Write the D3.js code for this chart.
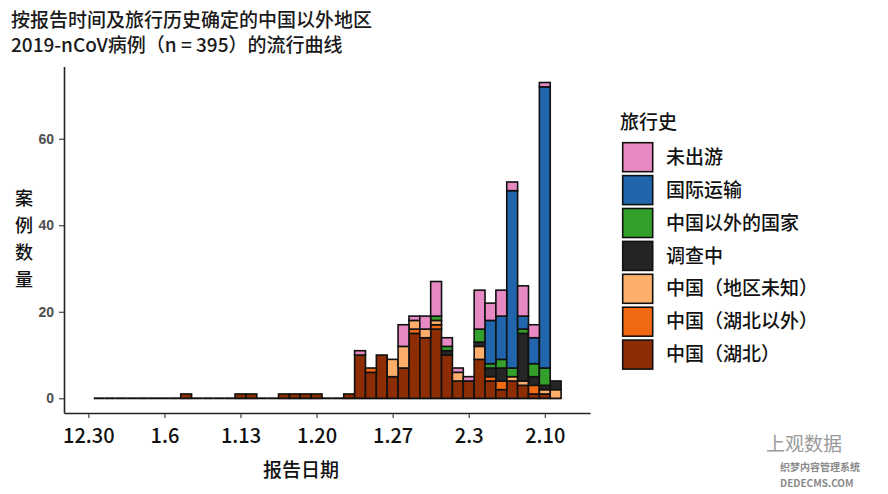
<!DOCTYPE html>
<html>
<head>
<meta charset="utf-8">
<script src="https://cdn.jsdelivr.net/npm/d3@7"></script>
<style>
  body { margin: 0; background: #fff; }
  svg text { font-family: "Noto Sans CJK SC", "Noto Sans", sans-serif; }
</style>
</head>
<body>
<svg id="chart" width="888" height="494"></svg>
<script>
// report dates, 12.31 .. 2.11
const dates = [
  "2019-12-31",
  "2020-01-01", "2020-01-02", "2020-01-03", "2020-01-04", "2020-01-05", "2020-01-06", "2020-01-07",
  "2020-01-08", "2020-01-09", "2020-01-10", "2020-01-11", "2020-01-12", "2020-01-13", "2020-01-14",
  "2020-01-15", "2020-01-16", "2020-01-17", "2020-01-18", "2020-01-19", "2020-01-20", "2020-01-21",
  "2020-01-22", "2020-01-23", "2020-01-24", "2020-01-25", "2020-01-26", "2020-01-27", "2020-01-28",
  "2020-01-29", "2020-01-30", "2020-01-31",
  "2020-02-01", "2020-02-02", "2020-02-03", "2020-02-04", "2020-02-05", "2020-02-06", "2020-02-07",
  "2020-02-08", "2020-02-09", "2020-02-10", "2020-02-11"
];

// case counts per date, one array per travel history group
const hubei         = [0,0,0,0,0,0,0,0,1,0,0,0,0,1,1,0,0,1,1,1,1,0,0,1,10,6,10,5,7,15,14,16,10,4,4,9,4,2,4,3,1,1,0];
const outsideHubei  = [0,0,0,0,0,0,0,0,0,0,0,0,0,0,0,0,0,0,0,0,0,0,0,0,0,1,0,0,0,1,0,1,0,0,0,0,1,2,0,0,2,0,0];
const unknownRegion = [0,0,0,0,0,0,0,0,0,0,0,0,0,0,0,0,0,0,0,0,0,0,0,0,0,0,0,4,5,2,2,1,0,2,0,3,0,0,1,1,0,1,2];
const investigating = [0,0,0,0,0,0,0,0,0,0,0,0,0,0,0,0,0,0,0,0,0,0,0,0,0,0,0,0,0,0,0,0,1,0,0,1,2,3,0,11,2,1,2];
const otherCountry  = [0,0,0,0,0,0,0,0,0,0,0,0,0,0,0,0,0,0,0,0,0,0,0,0,0,0,0,0,0,0,0,1,1,0,0,3,1,2,2,1,3,4,0];
const intlTransit   = [0,0,0,0,0,0,0,0,0,0,0,0,0,0,0,0,0,0,0,0,0,0,0,0,0,0,0,0,0,0,0,0,0,0,0,0,10,10,41,3,6,65,0];
const noTravel      = [0,0,0,0,0,0,0,0,0,0,0,0,0,0,0,0,0,0,0,0,0,0,0,0,1,0,0,0,5,1,3,8,2,1,1,9,4,6,2,7,3,1,0];

const tickDates  = ["2019-12-30", "2020-01-06", "2020-01-13", "2020-01-20", "2020-01-27", "2020-02-03", "2020-02-10"];
const tickLabels = ["12.30", "1.6", "1.13", "1.20", "1.27", "2.3", "2.10"];
const yTicks = [0, 20, 40, 60];

// bottom of the stack first
const groups = [
  { key: "hubei",         label: "中国（湖北）",     color: "#8c2d04", values: hubei },
  { key: "outsideHubei",  label: "中国（湖北以外）", color: "#f16913", values: outsideHubei },
  { key: "unknownRegion", label: "中国（地区未知）", color: "#fdae6b", values: unknownRegion },
  { key: "investigating", label: "调查中",           color: "#252525", values: investigating },
  { key: "otherCountry",  label: "中国以外的国家",   color: "#33a02c", values: otherCountry },
  { key: "intlTransit",   label: "国际运输",         color: "#2166ac", values: intlTransit },
  { key: "noTravel",      label: "未出游",           color: "#e78ac3", values: noTravel },
];

const DAY = 864e5;
const parse = d3.utcParse("%Y-%m-%d");
const t0 = parse("2019-12-30").getTime();

const rows = dates.map((d, i) => {
  const row = { date: parse(d) };
  groups.forEach(g => { row[g.key] = g.values[i]; });
  return row;
});

const svg = d3.select("#chart");

const x = d3.scaleUtc()
  .domain([new Date(t0 - 2.24 * DAY), new Date(t0 + 46.16 * DAY)])
  .range([64, 590]);

const y = d3.scaleLinear()
  .domain([-3.4, 76.7])
  .range([413, 66.5]);

const color = d3.scaleOrdinal()
  .domain(groups.map(g => g.key))
  .range(groups.map(g => g.color));

const stacked = d3.stack().keys(groups.map(g => g.key))(rows);

const halfDay = DAY / 2;
const left = d => x(new Date(d.getTime() - halfDay));
const right = d => x(new Date(d.getTime() + halfDay));

// empty days still get their outline, which shows as a flat line at 0
svg.append("g")
  .selectAll("line")
  .data(rows)
  .join("line")
    .attr("x1", d => left(d.date))
    .attr("x2", d => right(d.date))
    .attr("y1", y(0))
    .attr("y2", y(0))
    .attr("stroke", "#111")
    .attr("stroke-width", 2);

svg.append("g")
  .selectAll("g")
  .data(stacked)
  .join("g")
    .attr("fill", d => color(d.key))
  .selectAll("rect")
  .data(d => d.filter(s => s[1] > s[0]))
  .join("rect")
    .attr("x", d => left(d.data.date))
    .attr("width", d => right(d.data.date) - left(d.data.date))
    .attr("y", d => y(d[1]))
    .attr("height", d => y(d[0]) - y(d[1]))
    .attr("stroke", "#111")
    .attr("stroke-width", 1.6);

// axes
const xAxis = svg.append("g")
  .attr("transform", "translate(0,413)")
  .call(d3.axisBottom(x)
    .tickValues(tickDates.map(parse))
    .tickFormat((d, i) => tickLabels[i])
    .tickSize(5)
    .tickSizeOuter(0));

xAxis.selectAll("text")
  .attr("y", 16)
  .attr("font-size", 20)
  .attr("font-weight", 500)
  .attr("fill", "#111");

const yAxis = svg.append("g")
  .attr("transform", "translate(64,0)")
  .call(d3.axisLeft(y)
    .tickValues(yTicks)
    .tickSize(5)
    .tickSizeOuter(0)
    .tickPadding(5));

yAxis.selectAll("text")
  .style("font-family", "'Liberation Sans', Arial, sans-serif")
  .attr("font-size", 14)
  .attr("font-weight", "bold")
  .attr("fill", "#4d4d4d");

[xAxis, yAxis].forEach(a => {
  a.select(".domain").attr("stroke", "#222").attr("stroke-width", 1.6);
  a.selectAll(".tick line").attr("stroke", "#333").attr("stroke-width", 1.1);
});

// titles
const title = svg.append("text")
  .attr("x", 11)
  .attr("font-size", 19)
  .attr("font-weight", 500)
  .attr("fill", "#1a1a1a");
title.append("tspan").attr("x", 11).attr("y", 27).text("按报告时间及旅行历史确定的中国以外地区");
title.append("tspan").attr("x", 11).attr("y", 52).text("2019-nCoV病例（n = 395）的流行曲线");

svg.append("text")
  .attr("x", 301)
  .attr("y", 477)
  .attr("text-anchor", "middle")
  .attr("font-size", 19)
  .attr("font-weight", 500)
  .attr("fill", "#111")
  .text("报告日期");

svg.append("g")
  .selectAll("text")
  .data(["案", "例", "数", "量"])
  .join("text")
    .attr("x", 24)
    .attr("y", (d, i) => 205 + i * 27)
    .attr("text-anchor", "middle")
    .attr("font-size", 18)
    .attr("font-weight", 500)
    .attr("fill", "#111")
    .text(d => d);

// legend, top of the stack first
const legend = svg.append("g").attr("transform", "translate(620,0)");

legend.append("text")
  .attr("x", 0)
  .attr("y", 129)
  .attr("font-size", 19)
  .attr("font-weight", 500)
  .attr("fill", "#111")
  .text("旅行史");

const items = legend.selectAll("g.item")
  .data(groups.slice().reverse())
  .join("g")
    .attr("class", "item")
    .attr("transform", (d, i) => `translate(0,${142.7 + i * 32.9})`);

items.append("rect")
  .attr("x", 2.7)
  .attr("width", 30)
  .attr("height", 29)
  .attr("fill", d => d.color)
  .attr("stroke", "#111")
  .attr("stroke-width", 1.6);

items.append("text")
  .attr("x", 46)
  .attr("y", 14.5)
  .attr("dy", "0.35em")
  .attr("font-size", 19)
  .attr("font-weight", 500)
  .attr("fill", "#111")
  .text(d => d.label);

// watermark
svg.append("text")
  .attr("x", 766)
  .attr("y", 451)
  .attr("font-size", 19)
  .attr("fill", "#9a9a9a")
  .text("上观数据");
svg.append("text")
  .attr("x", 780)
  .attr("y", 471)
  .attr("font-size", 10)
  .attr("font-weight", "bold")
  .attr("fill", "#8a8a8a")
  .text("织梦内容管理系统");
svg.append("text")
  .attr("x", 780)
  .attr("y", 487)
  .attr("font-size", 10)
  .attr("font-weight", "bold")
  .attr("fill", "#8a8a8a")
  .text("DEDECMS.COM");
</script>
</body>
</html>
